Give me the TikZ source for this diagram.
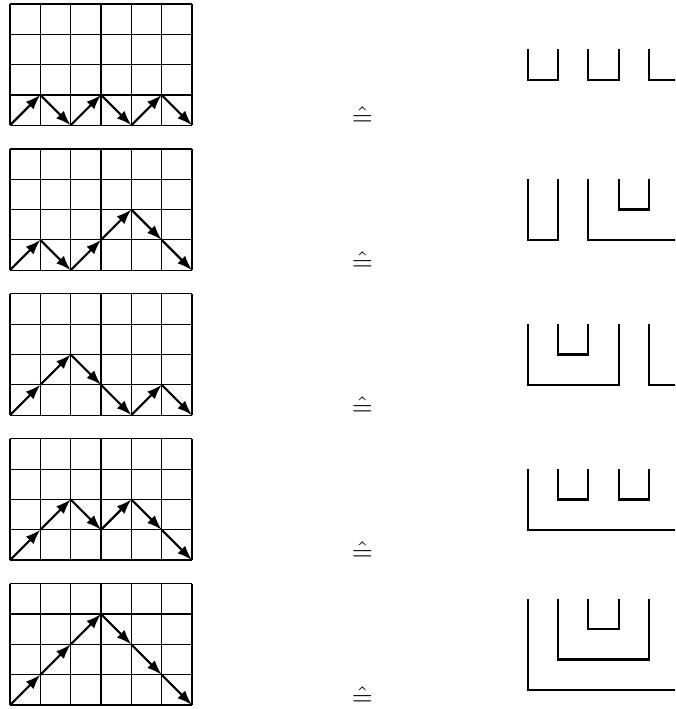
\documentclass[tikz,border=0pt]{standalone}
\usepackage{tikz}
\usetikzlibrary{arrows.meta}

\begin{document}
\begin{tikzpicture}[x=0.394cm, y=0.394cm, >={Latex[length=5.5pt,width=4pt]},
  gridline/.style={line width=0.45pt},
  pathstep/.style={->, thick},
  arcline/.style={thick, line join=miter}]
  \clip (-0.33,-0.13) rectangle (21.93,23.25);
  % one row per path: index / top of the brackets / heights / brackets i/j/bottom
  \foreach \r/\top/\hts/\arcs in {
    0/2.5/{0,1,0,1,0,1,0}/{0/1/1.5,2/3/1.5,4/5/1.5},
    1/3/{0,1,0,1,2,1,0}/{0/1/1,2/5/1,3/4/2},
    2/3/{0,1,2,1,0,1,0}/{0/3/1,1/2/2,4/5/1},
    3/3/{0,1,2,1,2,1,0}/{0/5/1,1/2/2,3/4/2},
    4/3.5/{0,1,2,3,2,1,0}/{0/5/0.5,1/4/1.5,2/3/2.5}}{
    \begin{scope}[shift={(0,{(4-\r)*4.78})}]
      \draw[gridline, step={(1,1)}] (0,0) grid (6,4);
      \foreach \h [count=\i from 0] in \hts {
        \coordinate (v\i) at (\i,\h);
        \ifnum\i>0
          \pgfmathtruncatemacro\ip{\i-1}
          \draw[pathstep] (v\ip) -- (v\i);
        \fi
      }
      \node[anchor=base, inner sep=0pt] (eq\r) at (11.62,0) {$\hat{=}$};
      \foreach \a/\b/\lo in \arcs
        \draw[arcline] (17.07+\a,\top) -- (17.07+\a,\lo) -- (17.07+\b,\lo) -- (17.07+\b,\top);
    \end{scope}
  }
\end{tikzpicture}
\end{document}
